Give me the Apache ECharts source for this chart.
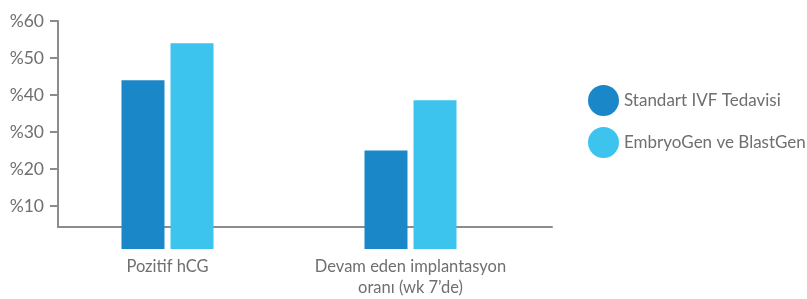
<!DOCTYPE html>
<html>
<head>
<meta charset="utf-8">
<script src="https://cdn.jsdelivr.net/npm/echarts@6/dist/echarts.min.js"></script>
<style>
  html, body { margin: 0; padding: 0; background: #fff; }
  #chart { width: 807px; height: 299px; }
</style>
</head>
<body>
<div id="chart"></div>
<script>
// veriler
var categories = ['Pozitif hCG', 'Devam eden implantasyon\noranı (wk 7’de)'];
var seriesNames = ['Standart IVF Tedavisi', 'EmbryoGen ve BlastGen'];
var standartValues = [44, 25];
var embryoValues = [54, 38.6];
var yTicks = [10, 20, 30, 40, 50, 60];

var yMin = 4.32, yMax = 60;
var gray = '#6f6f6f';
var lineGray = '#8c8c8c';
var font = 'Lato';

var chart = echarts.init(document.getElementById('chart'));

var option = {
  backgroundColor: '#ffffff',
  animation: false,
  textStyle: { fontFamily: font },
  legend: {
    orient: 'vertical',
    left: 588,
    top: 85,
    padding: 0,
    icon: 'circle',
    itemWidth: 31,
    itemHeight: 31,
    itemGap: 11,
    textStyle: { fontSize: 17, color: gray, fontFamily: font },
    data: seriesNames
  },
  grid: [
    // çerçeve (eksen çizgileri)
    { left: 58, top: 21, width: 494, height: 206 },
    // çubuklar
    { left: 46, top: 21, width: 486, height: 206 }
  ],
  xAxis: [
    {
      gridIndex: 0,
      type: 'category',
      data: ['', ''],
      axisLine: { show: true, onZero: false, lineStyle: { color: lineGray, width: 2 } },
      axisTick: { show: false },
      axisLabel: { show: false }
    },
    {
      gridIndex: 1,
      type: 'category',
      data: categories,
      axisLine: { show: false },
      axisTick: { show: false },
      axisLabel: {
        interval: 0,
        hideOverlap: false,
        margin: 29,
        fontSize: 16.5,
        lineHeight: 21,
        color: gray,
        fontFamily: font
      }
    }
  ],
  yAxis: [
    {
      gridIndex: 0,
      type: 'value',
      min: yMin,
      max: yMax,
      axisLine: { show: true, lineStyle: { color: lineGray, width: 2 } },
      axisTick: { show: true, length: 8, customValues: yTicks, lineStyle: { color: lineGray, width: 2 } },
      axisLabel: {
        customValues: yTicks,
        margin: 14,
        fontSize: 17.5,
        color: gray,
        fontFamily: font,
        formatter: function (v) { return '%' + v; }
      },
      splitLine: { show: false }
    },
    {
      gridIndex: 1,
      type: 'value',
      min: yMin,
      max: yMax,
      startValue: -1.6,
      show: false,
      splitLine: { show: false }
    }
  ],
  series: [
    {
      name: seriesNames[0],
      type: 'bar',
      xAxisIndex: 1,
      yAxisIndex: 1,
      data: standartValues,
      barWidth: 43,
      barGap: '14%',
      clip: false,
      itemStyle: { color: '#1a87c9' }
    },
    {
      name: seriesNames[1],
      type: 'bar',
      xAxisIndex: 1,
      yAxisIndex: 1,
      data: embryoValues,
      barWidth: 43,
      barGap: '14%',
      clip: false,
      itemStyle: { color: '#3cc4ee' }
    }
  ]
};

chart.setOption(option);
</script>
</body>
</html>
